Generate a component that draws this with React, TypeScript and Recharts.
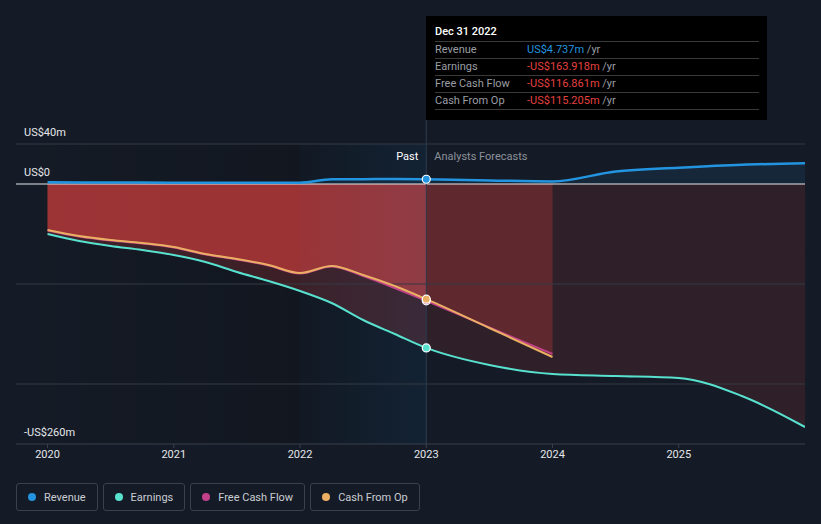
import {
  ComposedChart,
  Area,
  Line,
  XAxis,
  YAxis,
  ReferenceArea,
  ReferenceLine,
  ReferenceDot,
} from "recharts";

const BG = "#151b26";
const BLUE = "#2394df";
const TEAL = "#58e1cf";
const PINK = "#c2418a";
const ORANGE = "#ebaf63";
const RED = "#e8423f";
const GRID = "#343a45";
const FONT = "Roboto, sans-serif";

// ─── Data (US$ m, trailing twelve months) ────────────────────────────────────

const periods = [
  2020, 2020.25, 2020.5, 2020.75, 2021, 2021.25, 2021.5, 2021.75, 2022, 2022.25, 2022.5, 2022.75,
  2023, 2023.5, 2024, 2024.5, 2025, 2025.5, 2026,
];
const revenue = [
  1.7, 1.6, 1.5, 1.4, 1.3, 1.2, 1.2, 1.2, 1.3, 4.7, 4.8, 5.0,
  4.737, 3.6, 2.6, 12.5, 16.3, 19.3, 20.7,
];
const earnings = [
  -50, -57, -62, -66, -71, -78, -88, -97, -107, -119, -136, -150,
  -163.918, -181, -190, -192, -194, -212, -243,
];
const freeCashFlow = [
  -46.5, -52.5, -56.5, -59.5, -63.5, -70.5, -75.5, -81.5, -89.5, -82.5, -92, -104,
  -116.861, -143.5, -170, null, null, null, null,
];
const cashFromOp = [
  -46, -52, -56, -59, -63, -70, -75, -81, -89, -82, -91, -102,
  -115.205, -144, -173, null, null, null, null,
];

const xDomain = [2019.75, 2026];
const xTicks = [2020, 2021, 2022, 2023, 2024, 2025];
const yDomain = [-260, 64];
const gridValues = [40, -100, -200];
const yLabels = [
  { value: 40, text: "US$40m" },
  { value: 0, text: "US$0" },
  { value: -260, text: "-US$260m" },
];

const LAST_ACTUAL = 2023;
const HIGHLIGHT_FROM = 2022;
const tooltipDate = "Dec 31 2022";

const data = periods.map((t, i) => ({
  t,
  revenue: revenue[i],
  earnings: earnings[i],
  fcf: freeCashFlow[i],
  cfo: cashFromOp[i],
}));

const lastIdx = periods.indexOf(LAST_ACTUAL);

// where the forecast starts inside each area's bounding box
function splitOffset(values: (number | null)[]): number {
  const xs = periods.filter((_, i) => values[i] !== null);
  return (LAST_ACTUAL - xs[0]) / (xs[xs.length - 1] - xs[0]);
}

function fmt(v: number): string {
  return `${v < 0 ? "-" : ""}US$${Math.abs(v).toFixed(3)}m`;
}

const tooltipRows = [
  { name: "Revenue", value: revenue[lastIdx] },
  { name: "Earnings", value: earnings[lastIdx] },
  { name: "Free Cash Flow", value: freeCashFlow[lastIdx] as number },
  { name: "Cash From Op", value: cashFromOp[lastIdx] as number },
];

const legendItems = [
  { name: "Revenue", color: BLUE },
  { name: "Earnings", color: TEAL },
  { name: "Free Cash Flow", color: PINK },
  { name: "Cash From Op", color: ORANGE },
];

// ─── Small renderers ─────────────────────────────────────────────────────────

function YLabel({ viewBox, text }: any) {
  return (
    <text x={viewBox.x + 8} y={viewBox.y - 8} fill="#e4e7eb" fontSize={11} fontFamily={FONT}>
      {text}
    </text>
  );
}

function PastLabel({ viewBox }: any) {
  const y = viewBox.y + 40;
  return (
    <g fontSize={11} fontFamily={FONT}>
      <text x={viewBox.x - 8} y={y} textAnchor="end" fill="#ffffff">
        Past
      </text>
      <text x={viewBox.x + 8} y={y} fill="#8b919b">
        Analysts Forecasts
      </text>
    </g>
  );
}

function SplitGradient({ id, offset, past, future }: { id: string; offset: number; past: number; future: number }) {
  return (
    <linearGradient id={id} x1="0" y1="0" x2="1" y2="0">
      <stop offset={0} stopColor={RED} stopOpacity={past} />
      <stop offset={offset} stopColor={RED} stopOpacity={past} />
      <stop offset={offset} stopColor={RED} stopOpacity={future} />
      <stop offset={1} stopColor={RED} stopOpacity={future} />
    </linearGradient>
  );
}

// ─── Chart ───────────────────────────────────────────────────────────────────

export default function App() {
  const shadeSplit = (HIGHLIGHT_FROM - xDomain[0]) / (LAST_ACTUAL - xDomain[0]);

  return (
    <div style={{ position: "absolute", left: 0, top: 0, width: 821, height: 524, background: BG, fontFamily: FONT, overflow: "hidden" }}>
      <ComposedChart width={821} height={524} data={data} margin={{ top: 120, right: 16, bottom: 50, left: 16 }}>
        <defs>
          <SplitGradient id="earnFill" offset={splitOffset(earnings)} past={0.2} future={0.12} />
          <SplitGradient id="fcfFill" offset={splitOffset(freeCashFlow)} past={0.33} future={0.14} />
          <SplitGradient id="cfoFill" offset={splitOffset(cashFromOp)} past={0.33} future={0.14} />
          <linearGradient id="pastShade" x1="0" y1="0" x2="1" y2="0">
            <stop offset={0} stopColor="#000" stopOpacity={0} />
            <stop offset={shadeSplit} stopColor="#000" stopOpacity={0.35} />
            <stop offset={1} stopColor="#000" stopOpacity={0.35} />
          </linearGradient>
          <linearGradient id="band" x1="0" y1="0" x2="1" y2="0">
            <stop offset={0} stopColor="#2196f3" stopOpacity={0.04} />
            <stop offset={1} stopColor="#2196f3" stopOpacity={0.19} />
          </linearGradient>
        </defs>

        <XAxis
          type="number"
          dataKey="t"
          domain={xDomain}
          ticks={xTicks}
          height={30}
          allowDataOverflow
          axisLine={{ stroke: "#3a404b" }}
          tickLine={{ stroke: "#3a404b" }}
          tickSize={4}
          tick={{ fill: "#e4e7eb", fontSize: 11, fontFamily: FONT }}
        />
        <YAxis type="number" domain={yDomain} hide />

        <ReferenceArea x1={xDomain[0]} x2={LAST_ACTUAL} y1={yDomain[0]} y2={40} fill="url(#pastShade)" stroke="none" zIndex={-50} />
        {gridValues.map((v) => (
          <ReferenceLine key={v} y={v} stroke={GRID} strokeWidth={1} />
        ))}

        <Area dataKey="earnings" type="monotone" stroke="none" fill="url(#earnFill)" fillOpacity={1} isAnimationActive={false} />
        <Area dataKey="fcf" type="monotone" stroke="none" fill="url(#fcfFill)" fillOpacity={1} isAnimationActive={false} />
        <Area dataKey="cfo" type="monotone" stroke="none" fill="url(#cfoFill)" fillOpacity={1} isAnimationActive={false} />
        <Area dataKey="revenue" type="monotone" stroke="none" fill={BLUE} fillOpacity={0.1} isAnimationActive={false} />

        <ReferenceArea x1={HIGHLIGHT_FROM} x2={LAST_ACTUAL} y1={yDomain[0]} y2={40} fill="url(#band)" stroke="none" zIndex={150} />
        <ReferenceLine y={0} stroke="#e8e8e8" strokeWidth={1} />
        <ReferenceLine x={LAST_ACTUAL} stroke="#2b3b4e" strokeWidth={1} label={<PastLabel />} />
        {yLabels.map((l) => (
          <ReferenceLine key={l.text} y={l.value} stroke="none" label={<YLabel text={l.text} />} />
        ))}

        <Line dataKey="earnings" type="monotone" stroke={TEAL} strokeWidth={2} dot={false} isAnimationActive={false} />
        <Line dataKey="fcf" type="monotone" stroke={PINK} strokeWidth={2} dot={false} isAnimationActive={false} />
        <Line dataKey="cfo" type="monotone" stroke={ORANGE} strokeWidth={2} dot={false} isAnimationActive={false} />
        <Line dataKey="revenue" type="monotone" stroke={BLUE} strokeWidth={2.5} dot={false} isAnimationActive={false} />

        <ReferenceDot x={LAST_ACTUAL} y={earnings[lastIdx]} r={4} fill={TEAL} stroke="#fff" strokeWidth={1.2} />
        <ReferenceDot x={LAST_ACTUAL} y={freeCashFlow[lastIdx] as number} r={4} fill={PINK} stroke="#fff" strokeWidth={1.2} />
        <ReferenceDot x={LAST_ACTUAL} y={cashFromOp[lastIdx] as number} r={4} fill={ORANGE} stroke="#fff" strokeWidth={1.2} />
        <ReferenceDot x={LAST_ACTUAL} y={revenue[lastIdx]} r={4} fill={BLUE} stroke="#fff" strokeWidth={1.2} />
      </ComposedChart>

      {/* static hover box for the last reported period */}
      <div style={{ position: "absolute", left: 426, top: 16, width: 341, height: 104, background: "#000", boxSizing: "border-box", padding: "6px 8px 0 9px", fontSize: 11 }}>
        <div style={{ color: "#fff", lineHeight: "19px", fontWeight: 500 }}>{tooltipDate}</div>
        {tooltipRows.map((r, i) => (
          <div
            key={r.name}
            style={{
              display: "flex",
              borderTop: "1px solid #3a3a3a",
              borderBottom: i === tooltipRows.length - 1 ? "1px solid #3a3a3a" : "none",
              lineHeight: "16px",
            }}
          >
            <span style={{ width: 92, color: "#9a9ea4" }}>{r.name}</span>
            <span style={{ color: r.value < 0 ? "#e5413f" : BLUE }}>{fmt(r.value)}</span>
            <span style={{ color: "#9a9ea4" }}>&nbsp;/yr</span>
          </div>
        ))}
      </div>

      <div style={{ position: "absolute", left: 16, top: 483, display: "flex", gap: 5 }}>
        {legendItems.map((it) => (
          <div
            key={it.name}
            style={{
              display: "flex",
              alignItems: "center",
              height: 26,
              padding: "0 11px 0 11px",
              border: "1px solid #3b404b",
              borderRadius: 3,
              color: "#c9cdd3",
              fontSize: 11,
            }}
          >
            <span style={{ width: 8, height: 8, borderRadius: 4, background: it.color, marginRight: 8 }} />
            {it.name}
          </div>
        ))}
      </div>
    </div>
  );
}
